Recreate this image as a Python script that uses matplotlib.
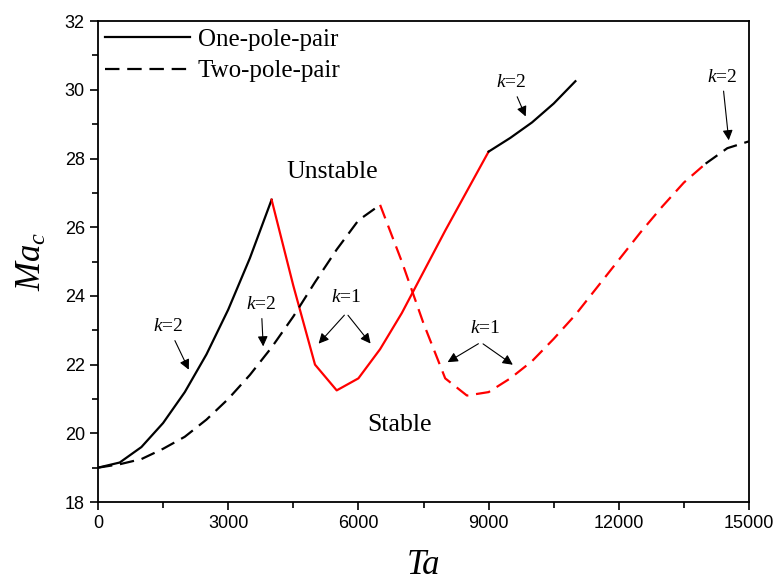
import matplotlib
matplotlib.use("Agg")
import matplotlib.pyplot as plt
from matplotlib.ticker import MultipleLocator

# one-pole-pair, k=2 branch (low Ta)
one_k2_ta = [0, 500, 1000, 1500, 2000, 2500, 3000, 3500, 4000]
one_k2_ma = [19.0, 19.15, 19.6, 20.3, 21.2, 22.3, 23.6, 25.1, 26.8]
# one-pole-pair, k=1 branch
one_k1_ta = [4000, 4500, 5000, 5500, 6000, 6500, 7000, 7500, 8000, 8500, 9000]
one_k1_ma = [26.8, 24.3, 22.0, 21.25, 21.6, 22.45, 23.5, 24.7, 25.9, 27.05, 28.2]
# one-pole-pair, k=2 branch (high Ta)
one_k2b_ta = [9000, 9500, 10000, 10500, 11000]
one_k2b_ma = [28.2, 28.6, 29.05, 29.6, 30.25]

# two-pole-pair, k=2 branch (low Ta)
two_k2_ta = [0, 500, 1000, 1500, 2000, 2500, 3000, 3500, 4000, 4500, 5000, 5500, 6000, 6500]
two_k2_ma = [19.0, 19.1, 19.25, 19.55, 19.9, 20.4, 21.0, 21.7, 22.5, 23.4, 24.4, 25.35, 26.2, 26.65]
# two-pole-pair, k=1 branch
two_k1_ta = [6500, 7000, 7500, 8000, 8500, 9000, 9500, 10000, 10500, 11000, 11500,
             12000, 12500, 13000, 13500, 14000]
two_k1_ma = [26.65, 25.0, 23.2, 21.6, 21.1, 21.2, 21.6, 22.1, 22.75, 23.45, 24.25,
             25.05, 25.85, 26.6, 27.3, 27.85]
# two-pole-pair, k=2 branch (high Ta)
two_k2b_ta = [14000, 14500, 15000]
two_k2b_ma = [27.85, 28.3, 28.5]

SERIF = "Liberation Serif"
SANS = "Liberation Sans"
plt.rcParams["mathtext.fontset"] = "custom"
plt.rcParams["mathtext.it"] = "Liberation Serif:italic"
plt.rcParams["mathtext.rm"] = "Liberation Serif"

fig = plt.figure(figsize=(7.79, 5.86), dpi=100)
ax = fig.add_axes([0.1258, 0.1433, 0.8357, 0.8207])

lw = 1.6
dash = (0, (6.5, 3.5))
ax.plot(one_k2_ta, one_k2_ma, color="black", lw=lw, label="One-pole-pair")
ax.plot(one_k1_ta, one_k1_ma, color="red", lw=lw)
ax.plot(one_k2b_ta, one_k2b_ma, color="black", lw=lw)
ax.plot(two_k2_ta, two_k2_ma, color="black", lw=lw, linestyle=dash, label="Two-pole-pair")
ax.plot(two_k1_ta, two_k1_ma, color="red", lw=lw, linestyle=dash)
ax.plot(two_k2b_ta, two_k2b_ma, color="black", lw=lw, linestyle=dash)

ax.set_xlim(0, 15000)
ax.set_ylim(18, 32)
ax.xaxis.set_major_locator(MultipleLocator(3000))
ax.xaxis.set_minor_locator(MultipleLocator(1500))
ax.yaxis.set_major_locator(MultipleLocator(2))
ax.yaxis.set_minor_locator(MultipleLocator(1))
ax.tick_params(which="both", direction="out", top=False, right=False, width=1.2)
ax.tick_params(which="major", length=6, labelsize=13)
ax.tick_params(which="minor", length=4)
for lab in ax.get_xticklabels() + ax.get_yticklabels():
    lab.set_fontfamily(SANS)
for sp in ax.spines.values():
    sp.set_linewidth(1.3)

ax.set_xlabel("Ta", fontsize=25, fontfamily=SERIF, style="italic", labelpad=12)
ax.set_ylabel("$Ma_{c}$", fontsize=25, labelpad=12)

ax.legend(loc="upper left", frameon=False, prop={"family": SERIF, "size": 18},
          handlelength=3.4, handletextpad=0.3, borderaxespad=0.25, borderpad=0.05,
          labelspacing=0.35)

txt = dict(fontsize=14, fontfamily=SERIF, ha="center", va="center")
arrow = dict(arrowstyle="-|>", color="black", lw=0.8, mutation_scale=15)

ax.text(5400, 27.6, "Unstable", fontsize=18.5, fontfamily=SERIF, ha="center", va="center")
ax.text(6950, 20.25, "Stable", fontsize=18.5, fontfamily=SERIF, ha="center", va="center")

# k=2 labels
k2 = "$k$=2"
ax.annotate(k2, xy=(2120, 21.78), xytext=(1620, 23.1), arrowprops=arrow, **txt)
ax.annotate(k2, xy=(3810, 22.45), xytext=(3760, 23.75), arrowprops=arrow, **txt)
ax.annotate(k2, xy=(9880, 29.15), xytext=(9520, 30.2), arrowprops=arrow, **txt)
ax.annotate(k2, xy=(14540, 28.45), xytext=(14380, 30.37), arrowprops=arrow, **txt)

# k=1 labels with two arrows each
k1 = "$k$=1"
ax.text(5720, 23.95, k1, **txt)
ax.annotate("", xy=(5040, 22.55), xytext=(5720, 23.5), arrowprops=arrow)
ax.annotate("", xy=(6320, 22.55), xytext=(5720, 23.5), arrowprops=arrow)
ax.text(8920, 23.05, k1, **txt)
ax.annotate("", xy=(8000, 22.03), xytext=(8820, 22.65), arrowprops=arrow)
ax.annotate("", xy=(9610, 21.95), xytext=(8820, 22.65), arrowprops=arrow)

fig.savefig("out.png", dpi=100)
